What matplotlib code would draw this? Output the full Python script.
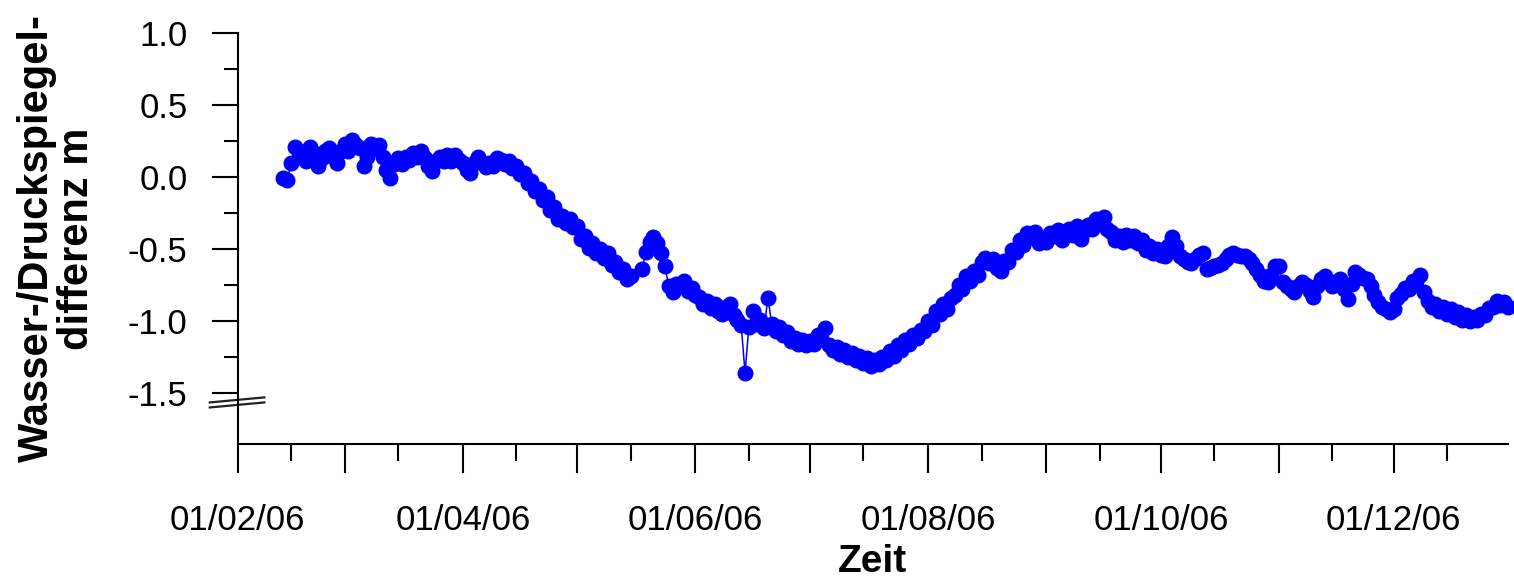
import matplotlib
matplotlib.use("Agg")
import matplotlib.pyplot as plt
import matplotlib.dates as mdates
import numpy as np
import pandas as pd
from matplotlib.ticker import FixedLocator

plt.rcParams['font.family'] = ['Liberation Sans', 'DejaVu Sans']

# Tageswerte ab 13.02.2006 (None = Messluecke)
start = "2006-02-13"
feb = [-0.01, -0.02, 0.10, 0.21, 0.18, 0.15, 0.11, 0.21, 0.17, 0.08, 0.13, 0.18,
       0.20, 0.14, 0.10, 0.18]
mar = [0.23, 0.18, 0.26, 0.22, 0.20, 0.08, 0.14, 0.23, 0.20, 0.22, 0.14, 0.05,
       -0.01, 0.09, 0.13, 0.09, 0.14, 0.12, 0.17, 0.14, 0.18, 0.13, 0.08, 0.04,
       0.11, 0.14, 0.11, 0.15, 0.11, 0.15, 0.12]
apr = [0.10, 0.05, 0.03, 0.10, 0.14, 0.10, 0.07, 0.10, 0.08, 0.13, 0.12, 0.09,
       0.11, 0.06, 0.08, 0.02, 0.03, -0.04, -0.03, -0.10, -0.08, -0.16, -0.14, -0.23,
       -0.21, -0.29, -0.27, -0.32, -0.29, -0.35]
mai = [-0.34, -0.43, -0.41, -0.49, -0.46, -0.53, -0.50, -0.56, -0.53, -0.61, -0.59, -0.66,
       -0.64, -0.71, -0.69, None, None, -0.64, -0.52, -0.45, -0.42, -0.46, -0.53, -0.62,
       -0.76, -0.80, -0.74, -0.76, -0.72, -0.79, -0.77]
jun = [-0.82, -0.83, -0.88, -0.86, -0.91, -0.88, -0.93, -0.95, -0.90, -0.88, -0.96, -0.99,
       -1.03, -1.36, -1.04, -0.93, -1.02, -0.99, -1.05, -0.84, -1.02, -1.07, -1.04, -1.10,
       -1.08, -1.14, -1.12, -1.16, -1.13, -1.17]
jul = [-1.14, -1.16, -1.10, -1.12, -1.05, -1.17, -1.20, -1.18, -1.23, -1.20, -1.25, -1.22,
       -1.27, -1.24, -1.29, -1.26, -1.31, -1.27, -1.30, -1.25, -1.27, -1.21, -1.24, -1.17,
       -1.20, -1.13, -1.16, -1.10, -1.12, -1.06, -1.07]
aug = [-1.00, -1.03, -0.93, -0.95, -0.88, -0.92, -0.84, -0.82, -0.75, -0.78, -0.69, -0.72,
       -0.65, -0.68, -0.59, -0.56, -0.60, -0.57, -0.63, -0.65, -0.58, -0.59, -0.51, -0.52,
       -0.44, -0.47, -0.39, -0.42, -0.38, -0.46, -0.43]
sep = [-0.45, -0.39, -0.41, -0.37, -0.44, -0.39, -0.36, -0.40, -0.34, -0.43, -0.37, -0.33,
       -0.36, -0.29, -0.31, -0.28, -0.36, -0.38, -0.44, -0.41, -0.45, -0.40, -0.44, -0.41,
       -0.46, -0.44, -0.51, -0.48, -0.53, -0.50]
okt = [-0.54, -0.55, -0.48, -0.42, -0.48, -0.55, -0.57, -0.59, -0.60, -0.57, -0.54, -0.53,
       -0.64, -0.63, -0.62, -0.61, -0.60, -0.57, -0.54, -0.53, -0.54, -0.55, -0.55, -0.57,
       -0.60, -0.64, -0.68, -0.72, -0.73, -0.68, -0.62]
nov = [-0.62, -0.73, -0.76, -0.78, -0.80, -0.76, -0.73, -0.75, -0.79, -0.83, -0.76, -0.71,
       -0.69, -0.72, -0.76, -0.73, -0.71, -0.78, -0.85, -0.74, -0.66, -0.68, -0.70, -0.71,
       -0.76, -0.82, -0.87, -0.90, -0.92, -0.94]
dez = [-0.92, -0.84, -0.81, -0.77, -0.78, -0.72, -0.72, -0.68, -0.80, -0.86, -0.90, -0.88,
       -0.93, -0.90, -0.95, -0.92, -0.97, -0.94, -0.99, -0.96, -1.00, -0.97, -0.99, -0.95,
       -0.96, -0.91, -0.90, -0.86, -0.89, -0.87, -0.90]

werte = feb + mar + apr + mai + jun + jul + aug + sep + okt + nov + dez
y = np.array([np.nan if v is None else v for v in werte], dtype=float)
x = pd.date_range(start, periods=len(y), freq='D')

fig = plt.figure(figsize=(15.14, 5.81), dpi=100)
ax = fig.add_axes([0.157, 0.236, 0.839, 0.707])

ax.plot(x, y, '-o', color='#0000ff', lw=1.1, markersize=10.5, clip_on=False)

ax.set_xlim(pd.Timestamp("2006-02-01"), pd.Timestamp("2006-12-31"))
ax.set_ylim(-1.854, 1.0)

for s in ['top', 'right']:
    ax.spines[s].set_visible(False)
for s in ['left', 'bottom']:
    ax.spines[s].set_linewidth(1.5)

ax.xaxis.set_major_locator(mdates.MonthLocator())
ax.xaxis.set_minor_locator(mdates.MonthLocator(bymonthday=15))
labs = mdates.DateFormatter('%d/%m/%y')
ax.xaxis.set_major_formatter(plt.FuncFormatter(
    lambda v, p: labs(v) if mdates.num2date(v).month % 2 == 0 else ''))

ax.yaxis.set_major_locator(FixedLocator([-1.5, -1.0, -0.5, 0.0, 0.5, 1.0]))
ax.yaxis.set_minor_locator(FixedLocator([-1.25, -0.75, -0.25, 0.25, 0.75]))
ax.yaxis.set_major_formatter(plt.FuncFormatter(lambda v, p: f"{v:.1f}"))

ax.tick_params(axis='both', which='major', width=1.5, labelsize=25)
ax.tick_params(axis='y', which='major', length=19, pad=17)
ax.tick_params(axis='x', which='major', length=21, pad=22)
ax.tick_params(axis='both', which='minor', length=10, width=1.5)
ax.tick_params(axis='x', which='minor', length=12)

# Achsenbruch
tr = ax.get_yaxis_transform()
for off in (0.0, -0.035):
    ax.plot([-0.022, 0.021], [-1.566 + off, -1.531 + off], color='#222222',
            lw=1.6, transform=tr, clip_on=False)

ax.set_xlabel('Zeit', fontsize=28, fontweight='bold', labelpad=5)
ax.set_ylabel('Wasser-/Druckspiegel-\ndifferenz m', fontsize=30, fontweight='bold',
              labelpad=22, linespacing=1.0)

fig.savefig('out.png', dpi=100)
